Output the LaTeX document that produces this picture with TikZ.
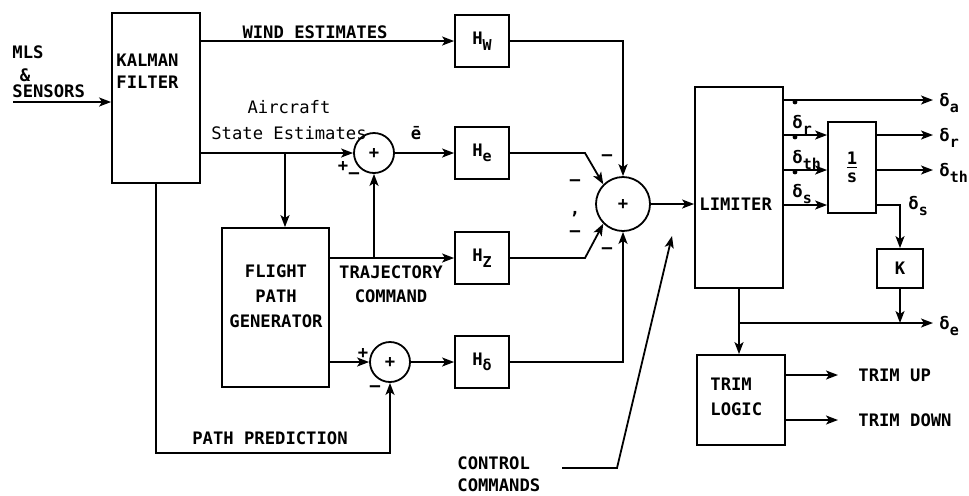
\documentclass[tikz,border=0pt]{standalone}
\usepackage{fontspec}
\setmainfont{DejaVu Sans Mono}
\usetikzlibrary{arrows.meta}
\newcommand{\lowsub}[1]{\raisebox{-0.6ex}{\fontsize{7.5}{8}\selectfont #1}}
\newcommand{\dsub}[1]{δ\lowsub{#1}}

\begin{document}
\begin{tikzpicture}[x=0.5pt,y=-0.5pt,font=\fontsize{8.6}{11}\selectfont\bfseries,
 block/.style={draw,line width=0.9pt,inner sep=0pt},
 summer/.style={draw,circle,line width=0.9pt,inner sep=0pt},
 lbl/.style={inner sep=1pt},
 link/.style={line width=0.9pt},
 wire/.style={-{Stealth[length=6pt,width=4.5pt,inset=1.5pt]},line width=0.9pt}]
\useasboundingbox (0,0) rectangle (969,495);
% blocks
\node[block,minimum width=44pt,minimum height=85pt] (kalman) at (156,98) {};
\node[lbl,align=left,anchor=west] (kalmantxt) at (114,71) {KALMAN\\FILTER};
\node[block,minimum width=27pt,minimum height=26pt] (hw) at (482,41) {H\lowsub{W}};
\node[block,minimum width=27pt,minimum height=26pt] (he) at (482,153) {H\lowsub{e}};
\node[block,minimum width=27pt,minimum height=26pt] (hz) at (482,258) {H\lowsub{Z}};
\node[block,minimum width=27pt,minimum height=26pt] (hd) at (482,362) {H\lowsub{δ}};
\node[summer,minimum size=20pt] (sumA) at (374,153) {+};
\node[summer,minimum size=20pt] (sumB) at (390,362) {+};
\node[summer,minimum size=27pt] (sumC) at (623,204) {+};
\node[block,minimum width=53.5pt,minimum height=79.5pt] (fpg) at (275.5,307.5) {};
\node[lbl,align=center] (fpgtxt) at (276,296) {FLIGHT\\[1.5pt]PATH\\[1.5pt]GENERATOR};
\node[block,minimum width=44pt,minimum height=100.5pt] (lim) at (739,187.5) {};
\node[lbl,anchor=west] (limtxt) at (697,204) {LIMITER};
\node[block,minimum width=24pt,minimum height=45.5pt,align=center] (integ) at (852,167.5) {\underline{1}\\[-2pt]s};
\node[block,minimum width=23pt,minimum height=19.5pt] (gain) at (900,268.5) {K};
\node[block,minimum width=44pt,minimum height=45pt] (trim) at (741,400) {};
\node[lbl,align=left,anchor=west] (trimtxt) at (708,397) {TRIM\\[1.5pt]LOGIC};
% texts
\node[lbl,anchor=west] (mlstxt) at (10,52) {MLS};
\node[lbl] (amptxt) at (25,75) {\&};
\node[lbl,anchor=west] (senstxt) at (10,91) {SENSORS};
\node[lbl] (windtxt) at (315,32) {WIND ESTIMATES};
\node[lbl,align=center,font=\fontsize{8.6}{11}\selectfont] (statetxt) at (289,120) {Aircraft\\[2pt]State Estimates};
\node[lbl] (plusA) at (343,166) {+};
\node[lbl] (minusA) at (354,176) {–};
\node[lbl] (ebar) at (416,133) {ē};
\node[lbl,align=center] (trajtxt) at (391,284) {TRAJECTORY\\[1pt]COMMAND};
\node[lbl] (plusB) at (363,353) {+};
\node[lbl] (minusB) at (375,389) {–};
\node[lbl] (pathtxt) at (270,438) {PATH PREDICTION};
\node[lbl] (minusC1) at (607,158) {–};
\node[lbl] (minusC2) at (575,183) {–};
\node[lbl] (commaC) at (575,214) {,};
\node[lbl] (minusC3) at (575,234) {–};
\node[lbl] (minusC4) at (607,251) {–};
\node[lbl,align=left,anchor=west] (cctxt) at (455,474) {CONTROL\\COMMANDS};
\node[lbl,anchor=west] (dr) at (790,125) {\dsub{r}};
\node[lbl,anchor=west] (dth) at (790,160) {\dsub{th}};
\node[lbl,anchor=west] (ds) at (790,194) {\dsub{s}};
\node[lbl,anchor=west] (dsout) at (906,206) {\dsub{s}};
\node[lbl,anchor=west] (daout) at (937,103) {\dsub{a}};
\node[lbl,anchor=west] (drout) at (937,138) {\dsub{r}};
\node[lbl,anchor=west] (dthout) at (937,173) {\dsub{th}};
\node[lbl,anchor=west] (deout) at (937,326) {\dsub{e}};
\node[lbl,anchor=west] (uptxt) at (856,375) {TRIM UP};
\node[lbl,anchor=west] (downtxt) at (856,420) {TRIM DOWN};
% connectors
\coordinate (mls) at (13,102);
\draw[wire] (mls) -- (mls -| kalman.west);
\draw[wire] (hw.west -| kalman.east) -- (hw.west);
\draw[wire] (sumA.west -| kalman.east) -- (sumA.west);
\draw[wire] (285,153) -- (285,153 |- fpg.north);
\draw[wire] (sumA) -- (he);
\draw[wire] (hz.west -| fpg.east) -- (hz.west);
\draw[wire] (sumA.south |- hz.west) -- (sumA.south);
\draw[wire] (sumB.west -| fpg.east) -- (sumB.west);
\draw[wire] (sumB) -- (hd);
\draw[wire] (kalman.south) -- ++(0,269) -| (sumB.south);
\draw[wire] (hw.east) -| (sumC.north);
\draw[wire] (he.east) -- (585,153) -- (sumC.135);
\draw[wire] (hz.east) -- (585,258) -- (sumC.225);
\draw[wire] (hd.east) -| (sumC.south);
\draw[wire] (sumC) -- (sumC -| lim.west);
\coordinate (ccstart) at (562,468);
\coordinate (cctip) at (672,236);
\draw[wire] (ccstart) -- (617,468) -- (cctip);
\draw[wire] (lim.east |- 0,100) -- (933,100);
\draw[wire] (lim.east |- 0,135) -- (integ.west |- 0,135);
\draw[wire] (lim.east |- 0,170) -- (integ.west |- 0,170);
\draw[wire] (lim.east |- 0,205) -- (integ.west |- 0,205);
\fill (795,102) circle[radius=1.2pt];
\fill (795,137) circle[radius=1.2pt];
\fill (795,172) circle[radius=1.2pt];
\draw[wire] (integ.east |- 0,135) -- (933,135);
\draw[wire] (integ.east |- 0,170) -- (933,170);
\draw[wire] (integ.east |- 0,205) -| (gain.north);
\draw[wire] (gain.south) -- (gain.south |- 0,323);
\draw[wire] (lim.south |- 0,323) -- (933,323);
\draw[wire] (lim.south) -- (lim.south |- trim.north);
\draw[wire] (trim.east |- 0,375) -- (838,375);
\draw[wire] (trim.east |- 0,420) -- (838,420);
\end{tikzpicture}
\end{document}
